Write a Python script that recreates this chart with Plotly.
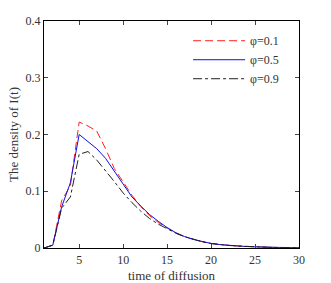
import plotly.graph_objects as go

t = list(range(1, 31))
phi01 = [0, 0.005, 0.083, 0.11, 0.222, 0.215, 0.206, 0.175, 0.14, 0.116, 0.093, 0.073, 0.057, 0.045, 0.035,
         0.026, 0.02, 0.015, 0.011, 0.008, 0.006, 0.0045, 0.0035, 0.0026, 0.002, 0.0015, 0.001, 0.0007, 0.0005, 0.0003]
phi05 = [0, 0.005, 0.072, 0.115, 0.2, 0.188, 0.175, 0.158, 0.135, 0.113, 0.09, 0.074, 0.059, 0.047, 0.036,
         0.027, 0.02, 0.015, 0.011, 0.008, 0.006, 0.0045, 0.0035, 0.0026, 0.002, 0.0015, 0.001, 0.0007, 0.0005, 0.0003]
phi09 = [0, 0.005, 0.07, 0.09, 0.165, 0.17, 0.155, 0.137, 0.117, 0.097, 0.08, 0.065, 0.052, 0.042, 0.034,
         0.026, 0.02, 0.015, 0.011, 0.008, 0.006, 0.0045, 0.0035, 0.0026, 0.002, 0.0015, 0.001, 0.0007, 0.0005, 0.0003]
names = ["φ=0.1", "φ=0.5", "φ=0.9"]
xticks = [5, 10, 15, 20, 25, 30]
yticks = [0, 0.1, 0.2, 0.3, 0.4]
yticklabels = ["0", "0.1", "0.2", "0.3", "0.4"]

fig = go.Figure()
fig.add_trace(go.Scatter(x=t, y=phi01, mode="lines", name=names[0],
                         line=dict(color="#ff2020", width=1, dash="8px,4px")))
fig.add_trace(go.Scatter(x=t, y=phi05, mode="lines", name=names[1],
                         line=dict(color="#1010e0", width=1)))
fig.add_trace(go.Scatter(x=t, y=phi09, mode="lines", name=names[2],
                         line=dict(color="#202020", width=1, dash="dashdot")))

family = "Liberation Serif, Times New Roman, serif"
fig.update_layout(
    width=331, height=283,
    margin=dict(l=44, r=32, t=21, b=35, autoexpand=False),
    paper_bgcolor="white", plot_bgcolor="white",
    font=dict(family=family, size=12, color="#333"),
    showlegend=True,
    legend=dict(x=0.565, y=0.977, xanchor="left", yanchor="top", bgcolor="rgba(0,0,0,0)",
                font=dict(family=family, size=12, color="#333"),
                tracegroupgap=0, itemwidth=52),
)
fig.update_xaxes(range=[1, 30], tickvals=xticks, ticks="inside", ticklen=4, showline=True, mirror="ticks",
                 linecolor="black", linewidth=1, showgrid=False, zeroline=False, automargin=False,
                 tickfont=dict(size=12), ticklabelstandoff=1,
                 title=dict(text="time of diffusion", font=dict(size=13), standoff=6))
fig.update_yaxes(range=[0, 0.4], tickvals=yticks, ticktext=yticklabels, ticks="inside", ticklen=4,
                 showline=True, mirror="ticks", linecolor="black", linewidth=1, showgrid=False, zeroline=False,
                 automargin=False, tickfont=dict(size=12),
                 title=dict(text="The density of I(t)", font=dict(size=13), standoff=4))
fig.write_html("out.html", config={"displayModeBar": False},
               post_script="document.body.style.margin='0';document.body.style.overflow='hidden';")
